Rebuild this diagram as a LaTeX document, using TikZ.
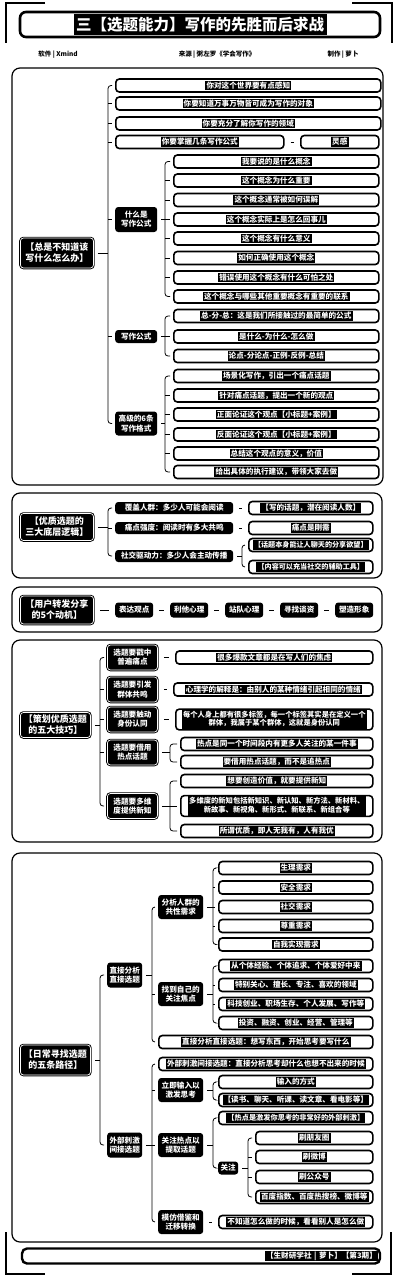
\documentclass[tikz,border=0pt]{standalone}
\usepackage{fontspec}
\setmainfont{Noto Sans CJK SC}
\newcommand\hl[1]{{\setlength{\fboxsep}{1.1pt}\colorbox{black}{\color{white}#1}}}
\newcommand\hlt[2]{\hl{\renewcommand\arraystretch{0.95}\begin{tabular}{@{}c@{}}#1\\#2\end{tabular}}}
\newcommand\lf{\fontsize{7.6}{8.6}\selectfont\bfseries}
\newcommand\mf{\fontsize{7.6}{9.2}\selectfont\bfseries}
\newcommand\rf{\fontsize{9}{11}\selectfont\bfseries}
\tikzset{
  conn/.style={line width=0.8pt},
  leaf/.style={draw, line width=1.6pt, rounded corners=3.5pt, fill=white, inner sep=0.6pt, minimum height=13pt, anchor=west, font=\lf},
  mid/.style={fill=black, rounded corners=3pt, text=white, inner sep=1pt, anchor=west, align=center, font=\mf},
  rootn/.style={draw=black, double=white, double distance=0.7pt, line width=0.9pt, fill=black, rounded corners=3pt, text=white, anchor=west, align=center, font=\rf, inner sep=1pt},
  sframe/.style={draw, line width=1.2pt, rounded corners=8pt},
  corner/.style={line width=1.5pt},
  sub/.style={font=\fontsize{6.5}{7}\selectfont\bfseries},
}
\newcommand\brk[4]{%
  \draw[conn, shorten <=4pt] (#2.east) -- (#1 |- #2.east);
  \draw[conn, rounded corners=3pt, shorten <=3pt, shorten >=3pt] (#3.west) -- (#1 |- #3.west) -- (#1 |- #4.west) -- (#4.west);
}
\newcommand\tick[2]{\draw[conn, shorten >=3pt] (#1 |- #2.west) -- (#2.west);}
\newcommand\dash[2]{\draw[conn, line width=1pt, shorten <=6pt, shorten >=6pt] (#1.east) -- (#2.west);}
\begin{document}
\begin{tikzpicture}[x=1pt,y=-1pt]
\useasboundingbox (0,0) rectangle (402,1280);
% outer corners
\draw[corner] (45,3) -- (6,3) -- (6,43);
\draw[corner] (352,3) -- (392,3) -- (392,43);
\draw[corner] (6,1232) -- (6,1274) -- (45,1274);
\draw[corner] (391,1232) -- (391,1274) -- (352,1274);
% title
\node[draw, line width=2.6pt, rounded corners=6pt, minimum width=360pt, minimum height=25pt, fill=white, inner sep=1pt] (title) at (200,24.5)
  {{\setlength{\fboxsep}{2.5pt}\colorbox{black}{\color{white}\fontsize{15.5}{16}\selectfont\bfseries 三【选题能力】写作的先胜而后求战}}};
\node[sub] (s1) at (58,55) {软件 | Xmind};
\node[sub] (s2) at (217,55) {来源 | 粥左罗《学会写作》};
\node[sub] (s3) at (343,55) {制作 | 萝卜};
% frames
\draw[sframe] (12,68) rectangle (383,485);
\draw[sframe] (12,493) rectangle (382,578);
\draw[sframe] (12,587) rectangle (382,632);
\draw[sframe] (12,640) rectangle (382,842);
\draw[sframe] (12,853) rectangle (382,1242);

% ===== Section 1
\node[rootn, minimum width=73pt, minimum height=30pt] (R1) at (20,253) {【总是不知道该\\写什么怎么办】};
\coordinate (T1) at (108,0);
\node[leaf, minimum width=265pt] (a1) at (115,85.5) {\hl{你对这个世界要有点感知}};
\node[leaf, minimum width=265pt] (a2) at (115,103.5) {\hl{你要知道万事万物皆可成为写作的对象}};
\node[leaf, minimum width=265pt] (a3) at (115,123.5) {\hl{你要充分了解你写作的领域}};
\node[leaf, minimum width=168pt] (a4) at (115,142) {\hl{你要掌握几条写作公式}};
\node[leaf, minimum width=78pt] (a4b) at (300,142) {\hl{灵感}};
\node[mid, minimum width=42pt, minimum height=25pt] (a5) at (115,219.5) {什么是\\写作公式};
\node[mid, minimum width=42pt, minimum height=13pt] (a6) at (115,336.5) {写作公式};
\node[mid, minimum width=42pt, minimum height=24pt] (a7) at (115,423.5) {高级的6条\\写作格式};
\brk{T1}{R1}{a1}{a7}
\foreach \c in {a2,a3,a4,a5,a6} {\tick{T1}{\c}}
\dash{a4}{a4b}

\coordinate (T2) at (165,0);
\node[leaf, minimum width=205pt] (b1) at (173,161.5) {\hl{我要说的是什么概念}};
\node[leaf, minimum width=205pt] (b2) at (173,180.5) {\hl{这个概念为什么重要}};
\node[leaf, minimum width=205pt] (b3) at (173,200) {\hl{这个概念通常被如何误解}};
\node[leaf, minimum width=205pt] (b4) at (173,219.5) {\hl{这个概念实际上是怎么回事儿}};
\node[leaf, minimum width=205pt] (b5) at (173,238.5) {\hl{这个概念有什么意义}};
\node[leaf, minimum width=205pt] (b6) at (173,258) {\hl{如何正确使用这个概念}};
\node[leaf, minimum width=205pt] (b7) at (173,277.5) {\hl{错误使用这个概念有什么可怕之处}};
\node[leaf, minimum width=205pt] (b8) at (173,296.5) {\hl{这个概念与哪些其他重要概念有重要的联系}};
\brk{T2}{a5}{b1}{b8}
\foreach \c in {b2,b3,b4,b5,b6,b7} {\tick{T2}{\c}}

\coordinate (T3) at (165,0);
\node[leaf, minimum width=205pt] (c1) at (173,316) {\hl{总-分-总：这是我们所接触过的最简单的公式}};
\node[leaf, minimum width=205pt] (c2) at (173,336.5) {\hl{是什么-为什么-怎么做}};
\node[leaf, minimum width=205pt] (c3) at (173,356) {\hl{论点-分论点-正例-反例-总结}};
\brk{T3}{a6}{c1}{c3}
\tick{T3}{c2}

\coordinate (T4) at (165,0);
\node[leaf, minimum width=205pt] (d1) at (173,376) {\hl{场景化写作，引出一个痛点话题}};
\node[leaf, minimum width=205pt] (d2) at (173,395.5) {\hl{针对痛点话题，提出一个新的观点}};
\node[leaf, minimum width=205pt] (d3) at (173,414.5) {\hl{正面论证这个观点【小标题+案例】}};
\node[leaf, minimum width=205pt] (d4) at (173,434.5) {\hl{反面论证这个观点【小标题+案例】}};
\node[leaf, minimum width=205pt] (d5) at (173,453.5) {\hl{总结这个观点的意义，价值}};
\node[leaf, minimum width=205pt] (d6) at (173,472) {\hl{给出具体的执行建议，带领大家去做}};
\brk{T4}{a7}{d1}{d6}
\foreach \c in {d2,d3,d4,d5} {\tick{T4}{\c}}

% ===== Section 2
\node[rootn, minimum width=73pt, minimum height=27pt] (R2) at (20,527) {【优质选题的\\三大底层逻辑】};
\coordinate (T5) at (108,0);
\node[mid, minimum width=118pt, minimum height=12pt] (e1) at (115,508) {覆盖人群：多少人可能会阅读};
\node[mid, minimum width=118pt, minimum height=12pt] (e2) at (115,528) {痛点强度：阅读时有多大共鸣};
\node[mid, minimum width=118pt, minimum height=12pt] (e3) at (115,556) {社交驱动力：多少人会主动传播};
\brk{T5}{R2}{e1}{e3}
\tick{T5}{e2}
\node[leaf, minimum width=124pt] (f1) at (248,508) {\hl{【写的话题，潜在阅读人数】}};
\node[leaf, minimum width=124pt] (f2) at (248,528) {\hl{痛点是刚需}};
\dash{e1}{f1}
\dash{e2}{f2}
\coordinate (T6) at (242,0);
\node[leaf, minimum width=124pt, font=\fontsize{7.1}{8}\selectfont\bfseries] (f3) at (248,545) {\hl{【话题本身能让人聊天的分享欲望】}};
\node[leaf, minimum width=124pt, font=\fontsize{7.1}{8}\selectfont\bfseries] (f4) at (248,567) {\hl{【内容可以充当社交的辅助工具】}};
\brk{T6}{e3}{f3}{f4}

% ===== Section 3
\node[rootn, minimum width=73pt, minimum height=28pt] (R3) at (20,610) {【用户转发分享\\的5个动机】};
\node[mid, minimum width=38pt, minimum height=15pt] (g1) at (115,610) {表达观点};
\node[mid, minimum width=38pt, minimum height=15pt] (g2) at (170,610) {利他心理};
\node[mid, minimum width=38pt, minimum height=15pt] (g3) at (225,610) {站队心理};
\node[mid, minimum width=38pt, minimum height=15pt] (g4) at (280,610) {寻找谈资};
\node[mid, minimum width=38pt, minimum height=15pt] (g5) at (335,610) {塑造形象};
\dash{R3}{g1}
\dash{g1}{g2}
\dash{g2}{g3}
\dash{g3}{g4}
\dash{g4}{g5}

% ===== Section 4
\node[rootn, minimum width=70pt, minimum height=25pt] (R4) at (20,725) {【策划优质选题\\的五大技巧】};
\coordinate (T7) at (100,0);
\node[rootn, font=\mf, minimum width=50pt, minimum height=25pt] (h1) at (107,657.5) {选题要戳中\\普遍痛点};
\node[rootn, font=\mf, minimum width=50pt, minimum height=25pt] (h2) at (107,689.5) {选题要引发\\群体共鸣};
\node[rootn, font=\mf, minimum width=50pt, minimum height=25pt] (h3) at (107,719.5) {选题要触动\\身份认同};
\node[rootn, font=\mf, minimum width=50pt, minimum height=25pt] (h4) at (107,752.5) {选题要借用\\热点话题};
\node[rootn, font=\mf, minimum width=50pt, minimum height=25pt] (h5) at (107,806) {选题要多维\\度提供新知};
\brk{T7}{R4}{h1}{h5}
\foreach \c in {h2,h3,h4} {\tick{T7}{\c}}
\node[leaf, minimum width=197pt] (i1) at (175,657.5) {\hl{很多爆款文章都是在写人们的焦虑}};
\node[leaf, minimum width=199pt] (i2) at (173,689.5) {\hl{心理学的解释是：由别人的某种情绪引起相同的情绪}};
\node[leaf, minimum width=197pt, font=\fontsize{7.3}{8.2}\selectfont\bfseries] (i3) at (175,719.5) {\hlt{每个人身上都有很多标签，每一个标签其实是在定义一个}{群体，我属于某个群体，这就是身份认同}};
\dash{h1}{i1}
\dash{h2}{i2}
\dash{h3}{i3}
\coordinate (T8) at (170,0);
\node[leaf, minimum width=192pt] (i4) at (180,744) {\hl{热点是同一个时间段内有更多人关注的某一件事}};
\node[leaf, minimum width=192pt] (i5) at (180,762) {\hl{要借用热点话题，而不是追热点}};
\brk{T8}{h4}{i4}{i5}
\coordinate (T9) at (170,0);
\node[leaf, minimum width=192pt] (i6) at (180,781) {\hl{想要创造价值，就要提供新知}};
\node[leaf, minimum width=192pt, font=\fontsize{7.3}{8.2}\selectfont\bfseries] (i7) at (180,806) {\hlt{多维度的新知包括新知识、新认知、新方法、新材料、}{新故事、新视角、新形式、新联系、新组合等}};
\node[leaf, minimum width=192pt] (i8) at (180,831) {\hl{所谓优质，即人无我有，人有我优}};
\brk{T9}{h5}{i6}{i8}
\tick{T9}{i7}

% ===== Section 5
\node[rootn, minimum width=70pt, minimum height=30pt] (R5) at (20,1060) {【日常寻找选题\\的五条路径】};
\coordinate (T10) at (100,0);
\node[mid, minimum width=35pt, minimum height=25pt] (j1) at (107,975) {直接分析\\直接选题};
\node[mid, minimum width=35pt, minimum height=25pt] (j2) at (107,1145) {外部刺激\\间接选题};
\brk{T10}{R5}{j1}{j2}

\coordinate (T11) at (152,0);
\node[mid, minimum width=45pt, minimum height=24pt] (k1) at (158,907) {分析人群的\\共性需求};
\node[mid, minimum width=45pt, minimum height=24pt] (k2) at (158,994) {找到自己的\\关注焦点};
\node[leaf, minimum width=214pt] (k3) at (158,1042) {\hl{直接分析直接选题：想写东西，开始思考要写什么}};
\brk{T11}{j1}{k1}{k3}
\tick{T11}{k2}

\coordinate (T12) at (213,0);
\node[leaf, minimum width=154pt] (l1) at (218,868) {\hl{生理需求}};
\node[leaf, minimum width=154pt] (l2) at (218,887.5) {\hl{安全需求}};
\node[leaf, minimum width=154pt] (l3) at (218,907) {\hl{社交需求}};
\node[leaf, minimum width=154pt] (l4) at (218,926) {\hl{尊重需求}};
\node[leaf, minimum width=154pt] (l5) at (218,944.5) {\hl{自我实现需求}};
\brk{T12}{k1}{l1}{l5}
\foreach \c in {l2,l3,l4} {\tick{T12}{\c}}

\coordinate (T13) at (213,0);
\node[leaf, minimum width=154pt] (m1) at (218,966) {\hl{从个体经验、个体追求、个体爱好中来}};
\node[leaf, minimum width=154pt] (m2) at (218,985) {\hl{特别关心、擅长、专注、喜欢的领域}};
\node[leaf, minimum width=154pt] (m3) at (218,1004) {\hl{科技创业、职场生存、个人发展、写作等}};
\node[leaf, minimum width=154pt] (m4) at (218,1023) {\hl{投资、融资、创业、经营、管理等}};
\brk{T13}{k2}{m1}{m4}
\foreach \c in {m2,m3} {\tick{T13}{\c}}

\coordinate (T14) at (152,0);
\node[leaf, minimum width=214pt] (n1) at (158,1064) {\hl{外部刺激间接选题：直接分析思考却什么也想不出来的时候}};
\node[mid, minimum width=45pt, minimum height=24pt] (n2) at (158,1090) {立即输入以\\激发思考};
\node[mid, minimum width=45pt, minimum height=24pt] (n3) at (158,1145) {关注热点以\\提取话题};
\node[mid, minimum width=45pt, minimum height=24pt] (n4) at (158,1222) {模仿借鉴和\\迁移转换};
\brk{T14}{j2}{n1}{n4}
\foreach \c in {n2,n3} {\tick{T14}{\c}}

\coordinate (T15) at (213,0);
\node[leaf, minimum width=154pt] (o1) at (218,1082) {\hl{输入的方式}};
\node[leaf, minimum width=154pt] (o2) at (218,1100) {\hl{【读书、聊天、听课、读文章、看电影等】}};
\brk{T15}{n2}{o1}{o2}

\coordinate (T16) at (213,0);
\node[leaf, minimum width=154pt, font=\fontsize{7.2}{8}\selectfont\bfseries] (o3) at (218,1118) {\hl{【热点是激发你思考的非常好的外部刺激】}};
\node[mid, minimum width=20pt, minimum height=13pt] (o4) at (218,1168) {关注};
\brk{T16}{n3}{o3}{o4}

\coordinate (T17) at (248,0);
\node[leaf, minimum width=117pt] (p1) at (255,1138) {\hl{刷朋友圈}};
\node[leaf, minimum width=117pt] (p2) at (255,1157) {\hl{刷微博}};
\node[leaf, minimum width=117pt] (p3) at (255,1177) {\hl{刷公众号}};
\node[leaf, minimum width=117pt] (p4) at (255,1197) {\hl{百度指数、百度热搜榜、微博等}};
\brk{T17}{o4}{p1}{p4}
\foreach \c in {p2,p3} {\tick{T17}{\c}}

\node[leaf, minimum width=154pt] (o5) at (218,1222) {\hl{不知道怎么做的时候，看看别人是怎么做}};
\dash{n4}{o5}

% footer
\node[draw, line width=2.4pt, rounded corners=5pt, minimum height=15pt, text width=354pt, align=right, inner sep=2pt, font=\lf] (foot) at (201,1256) {\hl{【生财研学社 | 萝卜】【第3期】}};
\end{tikzpicture}
\end{document}
